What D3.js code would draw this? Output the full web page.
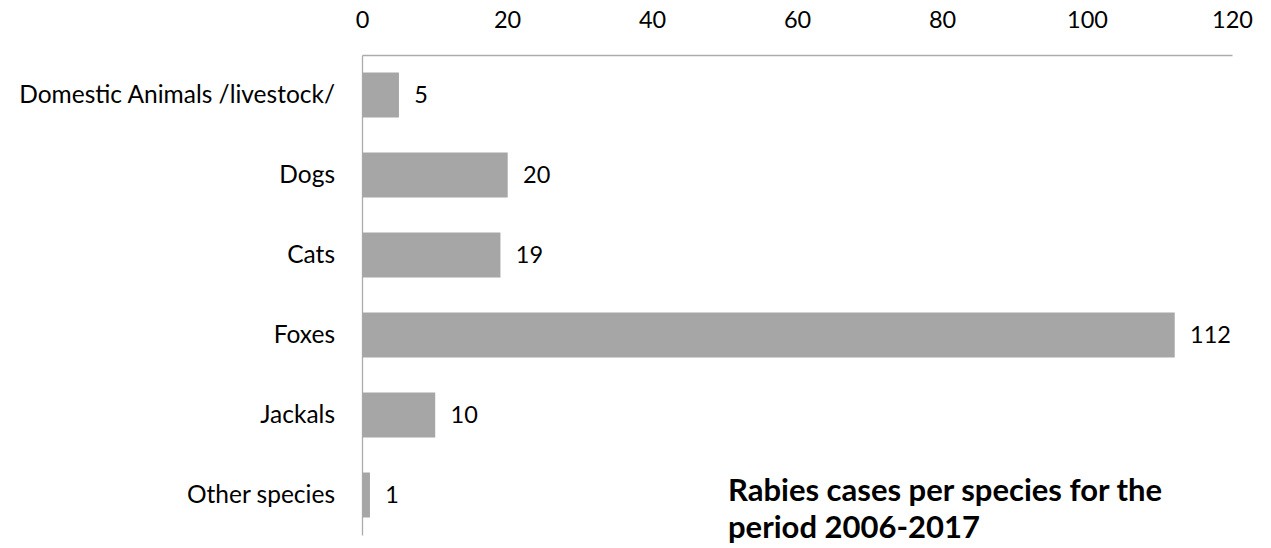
<!DOCTYPE html>
<html><head><meta charset="utf-8">
<script src="https://cdn.jsdelivr.net/npm/d3@7"></script>
<style>body{margin:0;background:#fff}svg{display:block}</style>
</head><body>
<svg id="c" width="1271" height="548"></svg>
<script>
const categories = ["Domestic Animals /livestock/", "Dogs", "Cats", "Foxes", "Jackals", "Other species"];
const values = [5, 20, 19, 112, 10, 1];
const xTicks = [0, 20, 40, 60, 80, 100, 120];
const titleLines = ["Rabies cases per species for the", "period 2006-2017"];

const svg = d3.select("#c");
const font = "Lato, 'Open Sans', sans-serif";
const fs = 24.5;
const x = d3.scaleLinear().domain([0, 120]).range([362, 1232]);
const y = d3.scaleBand().domain(categories).range([55, 535]).paddingInner(0.4375).paddingOuter(0.21875);

// top axis
const xa = svg.append("g").attr("transform", "translate(0,55)")
  .call(d3.axisTop(x).tickValues(xTicks).tickSize(0).tickPadding(27));
xa.select(".domain").attr("stroke", "#ababab").attr("stroke-width", 1.3);
xa.selectAll("text").attr("font-family", font).attr("font-size", 23.5).attr("fill", "#000");

// left axis
const ya = svg.append("g").attr("transform", "translate(362,0)")
  .call(d3.axisLeft(y).tickSize(0).tickPadding(27));
ya.select(".domain").attr("stroke", "#ababab").attr("stroke-width", 1.3);
ya.selectAll("text").attr("font-family", font).attr("font-size", fs).attr("fill", "#000");

const data = categories.map((c, i) => ({c, v: values[i]}));
svg.append("g").selectAll("rect").data(data).join("rect")
  .attr("x", x(0) + 0.7).attr("y", d => y(d.c))
  .attr("width", d => x(d.v) - x(0)).attr("height", y.bandwidth())
  .attr("fill", "#a6a6a6");

svg.append("g").selectAll("text").data(data).join("text")
  .attr("x", d => x(d.v) + 16).attr("y", d => y(d.c) + y.bandwidth() / 2)
  .attr("dy", "0.32em").attr("font-family", font).attr("font-size", 23.5)
  .text(d => d.v);

svg.append("text").attr("x", 728).attr("y", 501)
  .attr("font-family", font).attr("font-size", 31).attr("font-weight", "bold")
  .selectAll("tspan").data(titleLines).join("tspan")
  .attr("x", 728).attr("dy", (d, i) => i ? 37 : 0).text(d => d);
</script>
</body></html>
